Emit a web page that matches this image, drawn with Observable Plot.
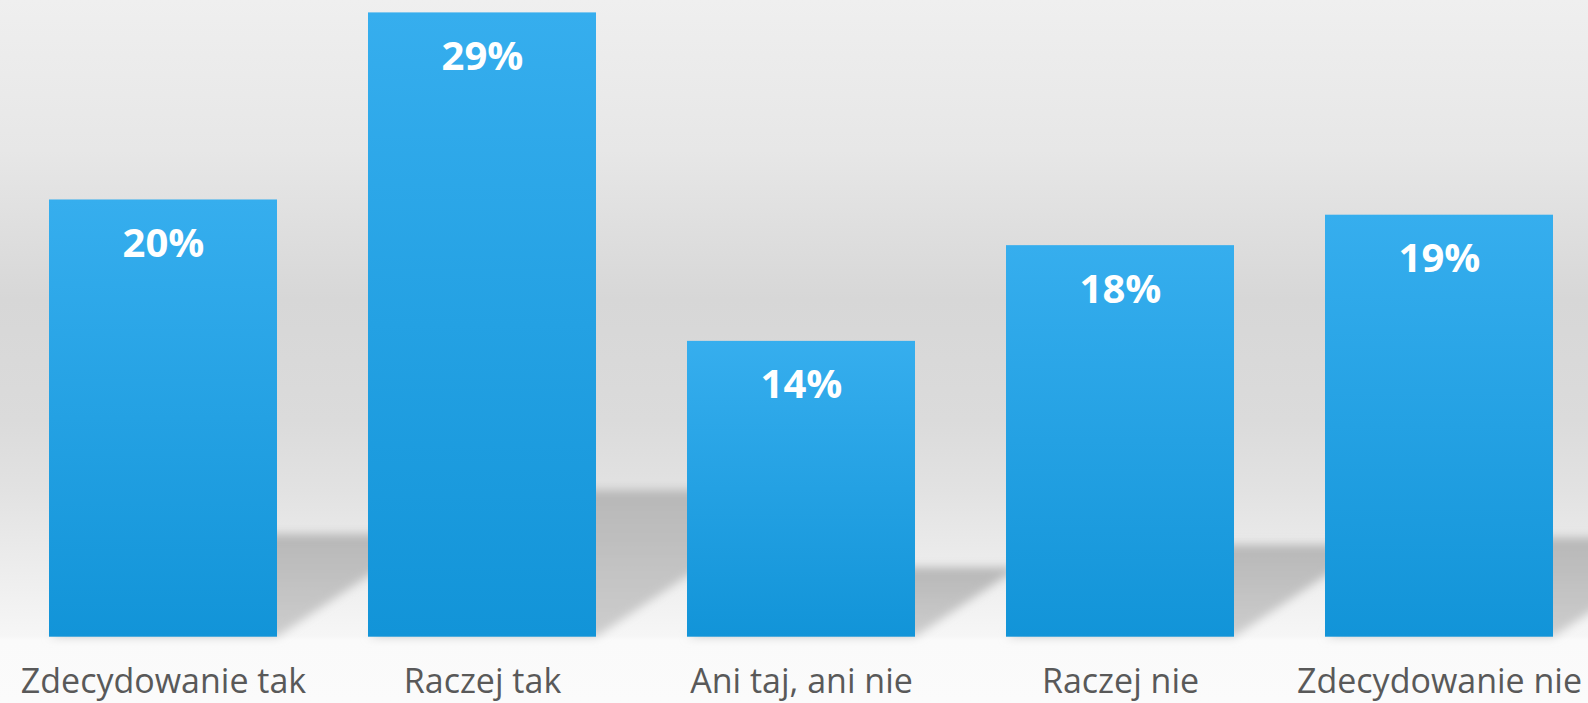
<!DOCTYPE html>
<html><head><meta charset="utf-8">
<script src="https://cdn.jsdelivr.net/npm/d3@7"></script>
<script src="https://cdn.jsdelivr.net/npm/@observablehq/plot@0.6"></script>
<style>
html,body{margin:0;padding:0;background:#fafafa;}
#chart svg{display:block;}
</style></head><body><div id="chart"></div>
<script>
// ---- data ----
const categories = ["Zdecydowanie tak", "Raczej tak", "Ani taj, ani nie", "Raczej nie", "Zdecydowanie nie"];
const shares = [20.1, 28.7, 13.6, 18.0, 19.4];
const valueLabels = ["20%", "29%", "14%", "18%", "19%"];

const data = categories.map((c, i) => ({category: c, share: shares[i], label: valueLabels[i]}));

const W = 1588, H = 703;

function defsMark() {
  const defs = d3.create("svg:defs");
  const bg = defs.append("linearGradient").attr("id", "barGrad").attr("x1", 0).attr("y1", 0).attr("x2", 0).attr("y2", 1);
  bg.append("stop").attr("offset", "0%").attr("stop-color", "#36aeee");
  bg.append("stop").attr("offset", "100%").attr("stop-color", "#1294d8");
  const sg = defs.append("linearGradient").attr("id", "shadowGrad").attr("x1", 0).attr("y1", 0).attr("x2", 0).attr("y2", 1);
  sg.append("stop").attr("offset", "0%").attr("stop-color", "#b7b7b7");
  sg.append("stop").attr("offset", "100%").attr("stop-color", "#cdcdcd");
  const f = defs.append("filter").attr("id", "shadowBlur").attr("x", "-20%").attr("y", "-20%").attr("width", "140%").attr("height", "140%");
  f.append("feGaussianBlur").attr("stdDeviation", 5);
  return defs.node();
}

function shadowMark(index, scales) {
  const x = scales.x, y = scales.y;
  const bw = typeof x.bandwidth === "function" ? x.bandwidth() : scales.scales.x.bandwidth;
  const y0 = y(0);
  const g = d3.create("svg:g").attr("filter", "url(#shadowBlur)");
  for (const d of data) {
    const x0 = x(d.category), x1 = x0 + bw, yt = y(d.share);
    const h = (y0 - yt) * 0.235, off = h * 1.5;
    g.append("polygon")
      .attr("points", [[x0, y0], [x1, y0], [x1 + off, y0 - h], [x0 + off, y0 - h]].map(p => p.join(",")).join(" "))
      .attr("fill", "url(#shadowGrad)");
  }
  return g.node();
}

const chart = Plot.plot({
  width: W,
  height: H,
  marginTop: 0,
  marginBottom: 66.3,
  marginLeft: 47.6,
  marginRight: 34.4,
  style: {
    background: "linear-gradient(to bottom, #efefef 0px, #e7e7e7 150px, #d7d7d7 300px, #dbdbdb 420px, #e2e2e2 490px, #ededed 570px, #f6f6f6 636px, #fafafa 640px, #fbfbfb 703px)",
    fontFamily: "'Open Sans', sans-serif",
    color: "#595959"
  },
  x: {domain: categories, paddingInner: 0.2865, paddingOuter: 0, axis: null},
  y: {domain: [0, 29.27], axis: null},
  marks: [
    defsMark,
    shadowMark,
    Plot.barY(data, {x: "category", y: "share", fill: "url(#barGrad)"}),
    Plot.text(data, {x: "category", y: "share", text: "label", lineAnchor: "bottom", dy: 57,
      fill: "white", fontSize: 40, fontWeight: 700, fontFamily: "'Open Sans', sans-serif"}),
    Plot.axisX({tickSize: 0, tickPadding: 32, fontSize: 34, label: null, fill: "#595959",
      fontFamily: "'Open Sans', sans-serif"})
  ]
});
document.getElementById("chart").appendChild(chart);
</script>
</body></html>
